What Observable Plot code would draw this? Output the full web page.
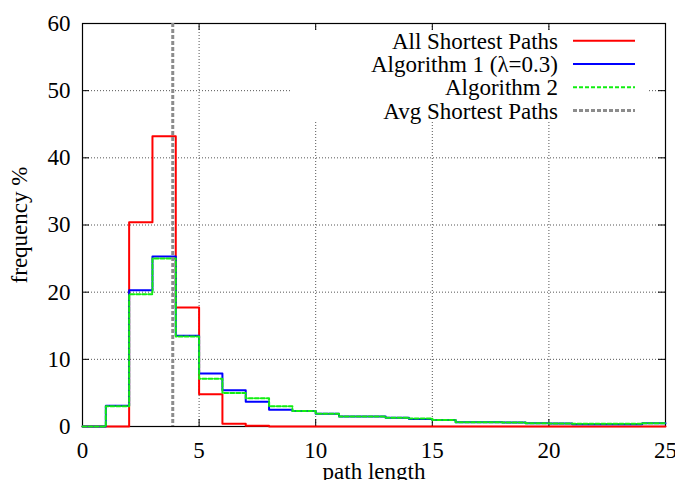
<!DOCTYPE html>
<html>
<head>
<meta charset="utf-8">
<script src="https://cdn.jsdelivr.net/npm/d3@7"></script>
<script src="https://cdn.jsdelivr.net/npm/@observablehq/plot@0.6"></script>
<style>
  html, body { margin: 0; padding: 0; background: white; }
  #wrap { position: relative; width: 675px; height: 480px; overflow: hidden; }
  #legend { position: absolute; left: 0; top: 0; }
</style>
</head>
<body>
<div id="wrap"></div>
<script>
// ---- data ----
const binStart = d3.range(0, 25);           // bins [i, i+1)
const xEnd = 25;
const seriesNames = ["All Shortest Paths", "Algorithm 1 (λ=0.3)", "Algorithm 2", "Avg Shortest Paths"];
const allShortest = [0, 0, 30.4, 43.2, 17.7, 4.8, 0.4, 0.1, 0, 0, 0, 0, 0, 0, 0, 0, 0, 0, 0, 0, 0, 0, 0, 0, 0];
const algorithm1  = [0, 3.1, 20.3, 25.3, 13.5, 7.9, 5.4, 3.7, 2.5, 2.3, 1.9, 1.5, 1.5, 1.3, 1.1, 0.95, 0.65, 0.65, 0.6, 0.5, 0.45, 0.35, 0.35, 0.35, 0.5];
const algorithm2  = [0, 3.0, 19.7, 25.0, 13.4, 7.1, 5.0, 4.2, 3.0, 2.3, 1.9, 1.5, 1.5, 1.3, 1.2, 0.95, 0.65, 0.65, 0.6, 0.5, 0.45, 0.4, 0.4, 0.4, 0.5];
const avgShortest = 3.87;
const xTicks = [0, 5, 10, 15, 20, 25];
const yTicks = [0, 10, 20, 30, 40, 50, 60];

const colors = ["#ff0000", "#0000ff", "#11ee11", "#8c8c8c"];

function steps(vals) {
  const rows = binStart.map((x, i) => ({x, y: vals[i]}));
  rows.push({x: xEnd, y: vals[vals.length - 1]});
  return rows;
}

const W = 675, H = 480;
const mL = 82, mR = 10, mT = 23, mB = 54;
const innerW = W - mL - mR, innerH = H - mT - mB;
const tk = 7;

const plot = Plot.plot({
  width: W, height: H,
  marginLeft: mL, marginRight: mR, marginTop: mT, marginBottom: mB,
  style: {fontFamily: "'Liberation Serif', 'Times New Roman', serif", fontSize: "23px", background: "white", color: "black"},
  x: {domain: [0, 25]},
  y: {domain: [0, 60]},
  marks: [
    // grid
    Plot.ruleX(xTicks.slice(1, -1), {stroke: "#555", strokeDasharray: "1,2", strokeWidth: 1}),
    Plot.ruleY(yTicks.slice(1, -1), {stroke: "#555", strokeDasharray: "1,2", strokeWidth: 1}),
    // frame + inward ticks on all four sides
    Plot.frame({stroke: "black", strokeWidth: 1.2}),
    Plot.tickX(xTicks, {x: d => d, insetTop: innerH - tk, stroke: "black"}),
    Plot.tickX(xTicks, {x: d => d, insetBottom: innerH - tk, stroke: "black"}),
    Plot.tickY(yTicks, {y: d => d, insetRight: innerW - tk, stroke: "black"}),
    Plot.tickY(yTicks, {y: d => d, insetLeft: innerW - tk, stroke: "black"}),
    // series
    Plot.line(steps(allShortest), {x: "x", y: "y", curve: "step-after", stroke: colors[0], strokeWidth: 2}),
    Plot.line(steps(algorithm1), {x: "x", y: "y", curve: "step-after", stroke: colors[1], strokeWidth: 2}),
    Plot.line(steps(algorithm2), {x: "x", y: "y", curve: "step-after", stroke: colors[2], strokeWidth: 2, strokeDasharray: "4,2"}),
    Plot.ruleX([avgShortest], {stroke: colors[3], strokeWidth: 3, strokeDasharray: "4,2"}),
    Plot.axisX({ticks: xTicks, tickSize: 0, tickPadding: 15, label: "path length", labelAnchor: "center", labelArrow: "none", labelOffset: 52}),
    Plot.axisY({ticks: yTicks, tickSize: 0, tickPadding: 12, label: "frequency %", labelAnchor: "center", labelArrow: "none", labelOffset: 72})
  ]
});

const wrap = document.getElementById("wrap");
wrap.appendChild(plot);

// legend (gnuplot-style, opaque box inside plot area)
const lg = d3.select(wrap).append("svg")
  .attr("id", "legend")
  .attr("width", W).attr("height", H)
  .style("pointer-events", "none");
lg.append("rect").attr("x", 290).attr("y", 30).attr("width", 358).attr("height", 92).attr("fill", "white");
const dash = [null, null, "4,2", "4,2"];
const widths = [2, 2, 2, 3];
seriesNames.forEach((name, i) => {
  const cy = 40.7 + 23.3 * i;
  lg.append("text")
    .attr("x", 558).attr("y", cy + 8)
    .attr("text-anchor", "end")
    .attr("font-family", "'Liberation Serif', 'Times New Roman', serif")
    .attr("font-size", 23)
    .attr("fill", "black")
    .text(name);
  lg.append("line")
    .attr("x1", 573).attr("x2", 635).attr("y1", cy).attr("y2", cy)
    .attr("stroke", colors[i]).attr("stroke-width", widths[i])
    .attr("stroke-dasharray", dash[i]);
});
</script>
</body>
</html>
